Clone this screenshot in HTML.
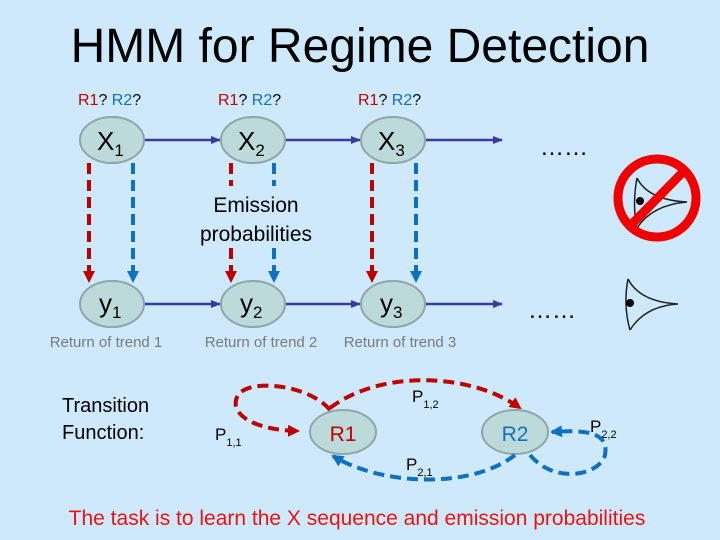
<!DOCTYPE html>
<html><head><meta charset="utf-8"><style>
body{margin:0;background:#cde9fb;}
svg{display:block;font-family:"Liberation Sans",Arial,sans-serif;}
</style></head><body>
<svg width="720" height="540" viewBox="0 0 720 540">
<defs>
<marker id="ab" markerWidth="10" markerHeight="10" refX="9" refY="5" orient="auto" markerUnits="userSpaceOnUse"><path d="M0,1 L10,5 L0,9 z" fill="#3a3a9e"/></marker>
<marker id="ar" markerWidth="12" markerHeight="12" refX="10" refY="6" orient="auto" markerUnits="userSpaceOnUse"><path d="M0,0 L12,6 L0,12 z" fill="#c00000"/></marker>
<marker id="au" markerWidth="12" markerHeight="12" refX="10" refY="6" orient="auto" markerUnits="userSpaceOnUse"><path d="M0,0 L12,6 L0,12 z" fill="#1070c0"/></marker>
</defs>
<rect width="720" height="540" fill="#cde9fb"/>
<text x="360" y="62" font-size="48" text-anchor="middle" fill="#000">HMM for Regime Detection</text>

<g font-size="16">
<text x="78" y="105"><tspan fill="#c00000">R1</tspan><tspan fill="#000">? </tspan><tspan fill="#1070c0">R2</tspan><tspan fill="#000">?</tspan></text>
<text x="218" y="105"><tspan fill="#c00000">R1</tspan><tspan fill="#000">? </tspan><tspan fill="#1070c0">R2</tspan><tspan fill="#000">?</tspan></text>
<text x="358" y="105"><tspan fill="#c00000">R1</tspan><tspan fill="#000">? </tspan><tspan fill="#1070c0">R2</tspan><tspan fill="#000">?</tspan></text>
</g>

<g stroke="#3a3a9e" stroke-width="2.5" fill="none">
<line x1="144" y1="140" x2="220" y2="140" marker-end="url(#ab)"/>
<line x1="285" y1="140" x2="360" y2="140" marker-end="url(#ab)"/>
<line x1="425" y1="140" x2="502" y2="140" marker-end="url(#ab)"/>
<line x1="144" y1="304" x2="220" y2="304" marker-end="url(#ab)"/>
<line x1="285" y1="304" x2="360" y2="304" marker-end="url(#ab)"/>
<line x1="425" y1="304" x2="502" y2="304" marker-end="url(#ab)"/>
</g>

<g stroke-width="4" stroke-dasharray="11,6" fill="none">
<line x1="89" y1="163" x2="89" y2="281" stroke="#c00000" marker-end="url(#ar)"/>
<line x1="133" y1="163" x2="133" y2="281" stroke="#1070c0" marker-end="url(#au)"/>
<line x1="231" y1="163" x2="231" y2="281" stroke="#c00000" marker-end="url(#ar)"/>
<line x1="274" y1="163" x2="274" y2="281" stroke="#1070c0" marker-end="url(#au)"/>
<line x1="372" y1="163" x2="372" y2="281" stroke="#c00000" marker-end="url(#ar)"/>
<line x1="416" y1="163" x2="416" y2="281" stroke="#1070c0" marker-end="url(#au)"/>
</g>
<rect x="200" y="186" width="125" height="60" fill="#cde9fb"/>
<text x="256" y="212" font-size="21" text-anchor="middle">Emission</text>
<text x="256" y="241" font-size="21" text-anchor="middle">probabilities</text>

<g fill="#bcdada" stroke="#8fa6a6" stroke-width="2">
<ellipse cx="112" cy="140" rx="32" ry="23"/><ellipse cx="253" cy="140" rx="32" ry="23"/><ellipse cx="393" cy="140" rx="32" ry="23"/>
<ellipse cx="112" cy="304" rx="32" ry="23"/><ellipse cx="253" cy="304" rx="32" ry="23"/><ellipse cx="393" cy="304" rx="32" ry="23"/>
<ellipse cx="343" cy="432" rx="33" ry="22"/><ellipse cx="515" cy="432" rx="33" ry="22"/>
</g>
<g font-size="26" fill="#000">
<text x="97" y="150">X<tspan font-size="17" dy="6">1</tspan></text>
<text x="238" y="150">X<tspan font-size="17" dy="6">2</tspan></text>
<text x="378" y="150">X<tspan font-size="17" dy="6">3</tspan></text>
<text x="99" y="312">y<tspan font-size="17" dy="6">1</tspan></text>
<text x="240" y="312">y<tspan font-size="17" dy="6">2</tspan></text>
<text x="380" y="312">y<tspan font-size="17" dy="6">3</tspan></text>
</g>
<text x="540" y="155" font-size="24">……</text>
<text x="528" y="318" font-size="24">……</text>
<g font-size="15" fill="#7a7a7a" text-anchor="middle">
<text x="106" y="347">Return of trend 1</text>
<text x="261" y="347">Return of trend 2</text>
<text x="400" y="347">Return of trend 3</text>
</g>

<g fill="none" stroke="#222" stroke-width="1.5">
<path d="M637,178 Q632,205 637,228"/>
<path d="M637,178 Q648,200 687,202 Q652,205 637,228"/>
<path d="M628,279 Q623,305 630,330"/>
<path d="M628,279 Q640,302 678,304 Q645,306 630,330"/>
</g>
<circle cx="640" cy="201" r="4" fill="#000"/>
<circle cx="630" cy="303" r="4" fill="#000"/>
<circle cx="657" cy="198" r="39" fill="none" stroke="#f00000" stroke-width="9"/>
<line x1="631" y1="225" x2="683" y2="172" stroke="#f00000" stroke-width="9"/>

<text x="62" y="412" font-size="20">Transition</text>
<text x="62" y="439" font-size="20">Function:</text>

<g stroke-width="4" stroke-dasharray="11,6" fill="none">
<path d="M330,410 C310,385 250,378 238,395 C228,412 250,430 298,431" stroke="#c00000" marker-end="url(#ar)"/>
<path d="M330,408 C380,370 470,372 520,408" stroke="#c00000" marker-end="url(#ar)"/>
<path d="M515,455 C470,490 380,485 333,456" stroke="#1070c0" marker-end="url(#au)"/>
<path d="M530,455 C555,485 600,475 605,455 C610,430 580,430 552,432" stroke="#1070c0" marker-end="url(#au)"/>
</g>
<text x="343" y="441" font-size="21" fill="#c00000" text-anchor="middle">R1</text>
<text x="515" y="441" font-size="21" fill="#1070c0" text-anchor="middle">R2</text>
<g font-size="17">
<text x="215" y="440">P<tspan font-size="11" dy="6">1,1</tspan></text>
<text x="412" y="402">P<tspan font-size="11" dy="6">1,2</tspan></text>
<text x="406" y="470">P<tspan font-size="11" dy="6">2,1</tspan></text>
<text x="590" y="432">P<tspan font-size="11" dy="6">2,2</tspan></text>
</g>

<text x="357" y="525" font-size="21" fill="#ee1111" text-anchor="middle">The task is to learn the X sequence and emission probabilities</text>
</svg>
</body></html>
